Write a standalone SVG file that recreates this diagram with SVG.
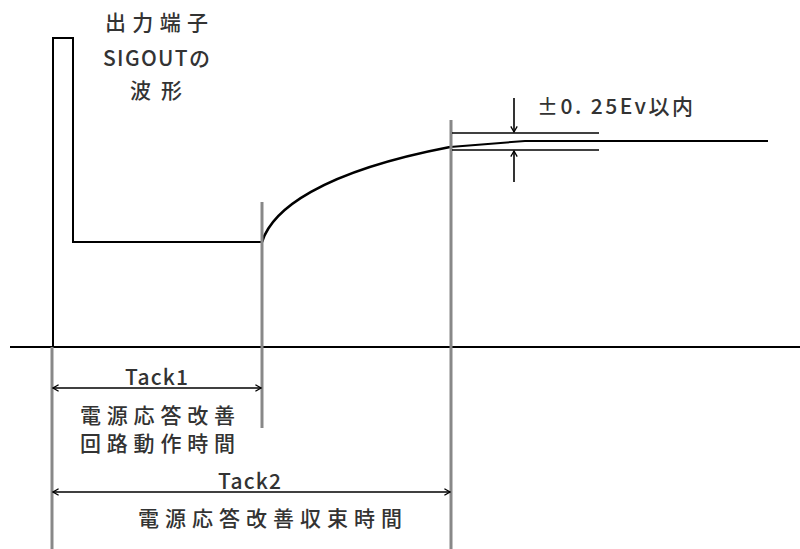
<svg xmlns="http://www.w3.org/2000/svg" width="800" height="549" viewBox="0 0 800 549">
<style>
.t{font-family:"Noto Sans CJK JP","DejaVu Sans Mono",monospace;font-size:21px;font-weight:500;fill:#333}
.w{fill:none;stroke:#000;stroke-width:2}
.c{fill:none;stroke:#000;stroke-width:2.6}
.g{fill:none;stroke:#888;stroke-width:3}
.d{fill:none;stroke:#000;stroke-width:1.6}
</style>
<defs>
<marker id="ah" viewBox="0 0 10 10" refX="9" refY="5" markerWidth="8" markerHeight="8" orient="auto-start-reverse" markerUnits="userSpaceOnUse">
<path d="M2,1 L9,5 L2,9" fill="none" stroke="#000" stroke-width="1.6"/>
</marker>
</defs>
<rect width="800" height="549" fill="#fff"/>
<g id="waveform">
<path class="w" d="M53,347 V38 H73 V242 H262"/>
<path class="c" d="M262,242 C272,210 320,172 450,147"/>
<path class="w" d="M450,147 L525,141 H768"/>
<line class="w" x1="10" y1="347" x2="800" y2="347"/>
</g>
<g id="guides">
<line class="g" x1="52" y1="347" x2="52" y2="549"/>
<line class="g" x1="262" y1="202" x2="262" y2="428"/>
<line class="g" x1="451" y1="120" x2="451" y2="549"/>
</g>
<g id="connectors">
<line class="d" x1="53" y1="388" x2="261" y2="388" marker-start="url(#ah)" marker-end="url(#ah)"/>
<line class="d" x1="53" y1="492" x2="450" y2="492" marker-start="url(#ah)" marker-end="url(#ah)"/>
<line class="d" x1="452" y1="133" x2="599" y2="133"/>
<line class="d" x1="452" y1="150" x2="599" y2="150"/>
<line class="d" x1="514" y1="98" x2="514" y2="132" marker-end="url(#ah)"/>
<line class="d" x1="514" y1="182" x2="514" y2="151" marker-end="url(#ah)"/>
</g>
<g id="title">
<text class="t" x="105" y="30" textLength="103" lengthAdjust="spacing">出力端子</text>
<text class="t" x="103" y="66" textLength="107" lengthAdjust="spacing">SIGOUTの</text>
<text class="t" x="130" y="98" textLength="52" lengthAdjust="spacing">波形</text>
</g>
<g id="tolerance">
<text class="t" x="537" y="114" textLength="156" lengthAdjust="spacing">±0. 25Ev以内</text>
</g>
<g id="tack1">
<text class="t" x="125" y="385" textLength="63" lengthAdjust="spacing">Tack1</text>
<text class="t" x="80" y="423" textLength="155" lengthAdjust="spacing">電源応答改善</text>
<text class="t" x="80" y="451" textLength="155" lengthAdjust="spacing">回路動作時間</text>
</g>
<g id="tack2">
<text class="t" x="218" y="489" textLength="63" lengthAdjust="spacing">Tack2</text>
<text class="t" x="138" y="526" textLength="264" lengthAdjust="spacing">電源応答改善収束時間</text>
</g>
</svg>
